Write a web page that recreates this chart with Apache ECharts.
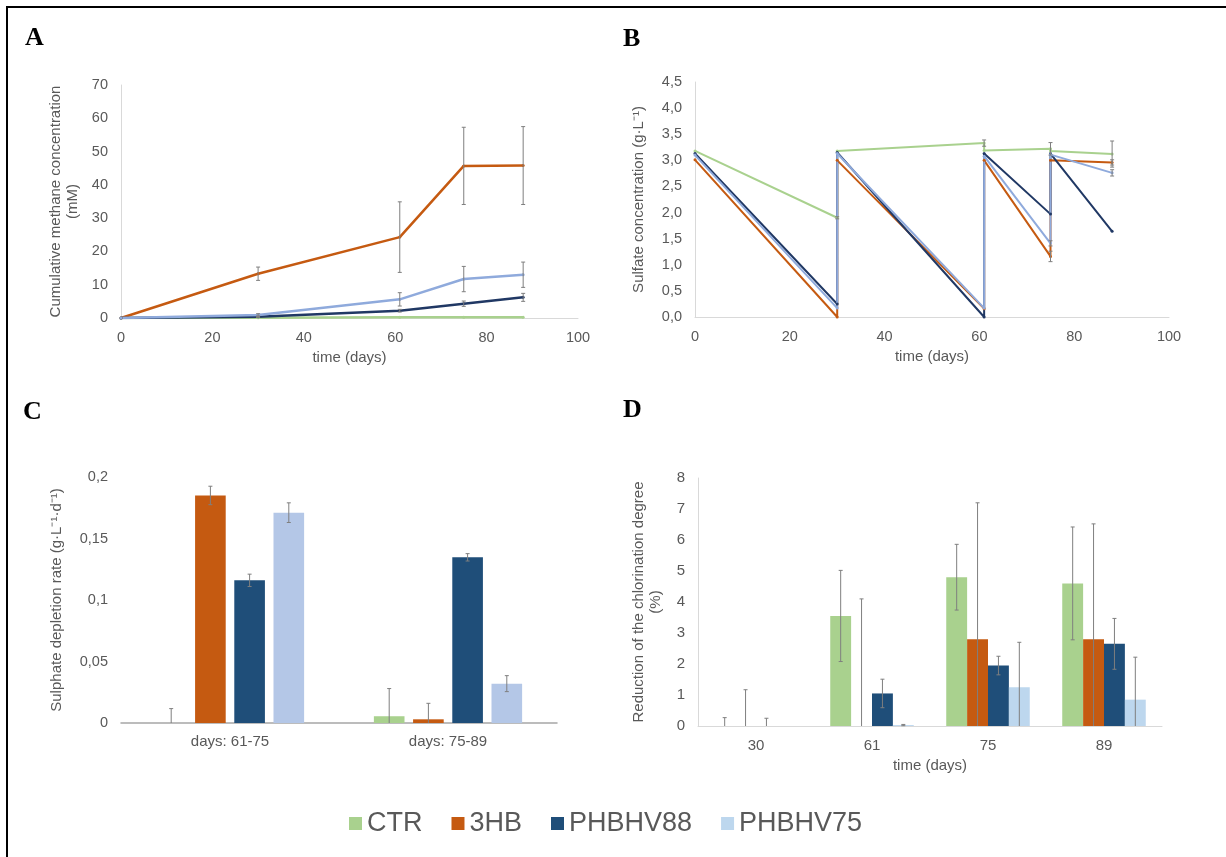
<!DOCTYPE html>
<html>
<head>
<meta charset="utf-8">
<title>Figure A-D</title>
<script src="https://cdn.jsdelivr.net/npm/echarts@6/dist/echarts.min.js"></script>
<style>
  html, body { margin: 0; padding: 0; background: #fff; }
  #chart { width: 1226px; height: 857px; }
</style>
</head>
<body>
<div id="chart"></div>
<script>
// series names (shared by all four panels)
const names = ['CTR', '3HB', 'PHBHV88', 'PHBHV75'];

// A: cumulative methane (mM)
const days = [0, 30, 61, 75, 88];
const methaneCTR = [0, 0.1, 0.2, 0.2, 0.2];
const methane3HB = [0, 13.3, 24.3, 45.7, 45.8];
const methane88 = [0, 0.4, 2.2, 4.3, 6.2];
const methane75 = [0, 0.9, 5.6, 11.7, 13.0];
const methaneErrCTR = [0, 0, 0, 0, 0];
const methaneErr3HB = [0, 2.0, 10.6, 11.6, 11.7];
const methaneErr88 = [0, 0.2, 0.4, 0.8, 1.2];
const methaneErr75 = [0, 0.4, 2.0, 3.8, 3.8];

// B: sulfate concentration (g/L), repeated days = re-spiking
const sulfateDays = [0, 30, 30, 61, 61, 75, 75, 88];
const sulfateCTR = [3.18, 1.9, 3.18, 3.33, 3.19, 3.22, 3.18, 3.12];
const sulfate3HB = [3.01, 0.0, 3.0, 0.16, 3.0, 1.16, 3.0, 2.96];
const sulfate88 = [3.13, 0.25, 3.15, 0.0, 3.13, 1.97, 3.13, 1.64];
const sulfate75 = [3.1, 0.17, 3.13, 0.17, 3.08, 1.41, 3.11, 2.76];
const sulfateErrCTR = [0, 0.02, 0, 0.06, 0, 0.12, 0, 0.25];
const sulfateErr3HB = [0, 0, 0, 0, 0, 0.1, 0, 0.05];
const sulfateErr88 = [0, 0, 0, 0, 0, 0, 0, 0];
const sulfateErr75 = [0, 0, 0, 0, 0, 0.05, 0, 0.06];

// C: sulphate depletion rate
const rateGroups = ['days: 61-75', 'days: 75-89'];
const rateCTR = [0, 0.0055];
const rate3HB = [0.185, 0.003];
const rate88 = [0.116, 0.1347];
const rate75 = [0.171, 0.032];
const rateErrCTR = [0.0117, 0.0225];
const rateErr3HB = [0.0075, 0.013];
const rateErr88 = [0.005, 0.003];
const rateErr75 = [0.008, 0.0065];

// D: reduction of chlorination degree (%)
const chlorDays = ['30', '61', '75', '89'];
const chlorCTR = [0, 3.55, 4.8, 4.6];
const chlor3HB = [0, 0, 2.8, 2.8];
const chlor88 = [0, 1.05, 1.95, 2.65];
const chlor75 = [0, 0.03, 1.25, 0.85];
const chlorErrCTR = [0.27, 1.47, 1.06, 1.82];
const chlorErr3HB = [1.17, 4.1, 4.4, 3.72];
const chlorErr88 = [0.25, 0.46, 0.3, 0.82];
const chlorErr75 = [0, 0.02, 1.45, 1.37];

const FONT = 'Liberation Sans';
const GRAY = '#595959';
const barColors = ['#A9D18E', '#C55A11', '#1F4E79', '#BDD7EE'];
const barColorsC = ['#A9D18E', '#C55A11', '#1F4E79', '#B4C7E7'];
const lineColors = ['#A9D18E', '#C55A11', '#203864', '#8FAADC'];
const ERR = '#7F7F7F';

// draws one error bar (vertical line + caps), bottom clipped at 0
function errShape(api, x0, val, err, dx) {
    if (!(err > 0)) return null;
    const top = api.coord([x0, val + err]);
    const lo = Math.max(0, val - err);
    const bot = api.coord([x0, lo]);
    const x = top[0] + dx;
    const st = { stroke: ERR, lineWidth: 1 };
    const kids = [
        { type: 'line', shape: { x1: x, y1: top[1], x2: x, y2: bot[1] }, style: st },
        { type: 'line', shape: { x1: x - 2, y1: top[1], x2: x + 2, y2: top[1] }, style: st }
    ];
    if (val - err > 0) {
        kids.push({ type: 'line', shape: { x1: x - 2, y1: bot[1], x2: x + 2, y2: bot[1] }, style: st });
    }
    return { type: 'group', children: kids };
}

// error bars on value x axis (panels A and B)
function xyErrors(axis, idx, xs, vals, errs) {
    return {
        type: 'custom', name: 'err' + axis + '_' + idx,
        xAxisIndex: axis, yAxisIndex: axis, z: 10, silent: true,
        data: xs.map((x, i) => [x, vals[i], errs[i]]),
        renderItem: (params, api) => errShape(api, api.value(0), api.value(1), api.value(2), 0)
    };
}

// error bars on grouped bars (panels C and D)
function barErrors(axis, idx, vals, errs, catGap, barGap) {
    return {
        type: 'custom', name: 'errbar' + axis + '_' + idx,
        xAxisIndex: axis, yAxisIndex: axis, z: 10, silent: true,
        data: vals.map((v, i) => [i, v, errs[i]]),
        renderItem: (params, api) => {
            const band = api.size([1, 0])[0];
            const n = names.length;
            const w = band * (1 - catGap) / (n + (n - 1) * barGap);
            const dx = (idx - (n - 1) / 2) * w * (1 + barGap);
            return errShape(api, api.value(0), api.value(1), api.value(2), dx);
        }
    };
}

const axisLabel = { color: GRAY, fontSize: 14.5, fontFamily: FONT, margin: 12 };
const nameStyle = { color: GRAY, fontSize: 15, fontFamily: FONT, lineHeight: 17 };
const lightLine = { show: true, lineStyle: { color: '#D9D9D9', width: 1 } };
const comma = d => v => v.toFixed(d).replace('.', ',');

const methane = [methaneCTR, methane3HB, methane88, methane75];
const methaneErr = [methaneErrCTR, methaneErr3HB, methaneErr88, methaneErr75];
const sulfate = [sulfateCTR, sulfate3HB, sulfate88, sulfate75];
const sulfateErr = [sulfateErrCTR, sulfateErr3HB, sulfateErr88, sulfateErr75];
const rate = [rateCTR, rate3HB, rate88, rate75];
const rateErr = [rateErrCTR, rateErr3HB, rateErr88, rateErr75];
const chlor = [chlorCTR, chlor3HB, chlor88, chlor75];
const chlorErr = [chlorErrCTR, chlorErr3HB, chlorErr88, chlorErr75];

const series = [];
names.forEach((nm, i) => {
    series.push({
        type: 'line', name: nm, xAxisIndex: 0, yAxisIndex: 0,
        data: days.map((d, k) => [d, methane[i][k]]),
        symbol: 'circle', symbolSize: 3,
        lineStyle: { color: lineColors[i], width: 2.5 },
        itemStyle: { color: lineColors[i] }
    });
    series.push(xyErrors(0, i, days, methane[i], methaneErr[i]));
});
names.forEach((nm, i) => {
    series.push({
        type: 'line', name: nm, xAxisIndex: 1, yAxisIndex: 1,
        data: sulfateDays.map((d, k) => [d, sulfate[i][k]]),
        symbol: 'circle', symbolSize: 3,
        lineStyle: { color: lineColors[i], width: 2 },
        itemStyle: { color: lineColors[i] }
    });
    series.push(xyErrors(1, i, sulfateDays, sulfate[i], sulfateErr[i]));
});
names.forEach((nm, i) => {
    series.push({
        type: 'bar', name: nm, xAxisIndex: 2, yAxisIndex: 2,
        data: rate[i], barGap: '28%', barCategoryGap: '32%',
        itemStyle: { color: barColorsC[i] }
    });
    series.push(barErrors(2, i, rate[i], rateErr[i], 0.32, 0.28));
});
names.forEach((nm, i) => {
    series.push({
        type: 'bar', name: nm, xAxisIndex: 3, yAxisIndex: 3,
        data: chlor[i], barGap: '0%', barCategoryGap: '28%',
        itemStyle: { color: barColors[i] }
    });
    series.push(barErrors(3, i, chlor[i], chlorErr[i], 0.28, 0));
});

const letter = (t, x, y) => ({
    type: 'text', left: x, top: y,
    style: { text: t, font: 'bold 26px "Liberation Serif"', fill: '#000' }
});

const chart = echarts.init(document.getElementById('chart'));
chart.setOption({
    animation: false,
    backgroundColor: '#fff',
    textStyle: { fontFamily: FONT },
    graphic: [
        { type: 'rect', shape: { x: 6, y: 6, width: 1230, height: 2 }, style: { fill: '#000' } },
        { type: 'rect', shape: { x: 6, y: 6, width: 2, height: 860 }, style: { fill: '#000' } },
        letter('A', 25, 25),
        letter('B', 623, 26),
        letter('C', 23, 399),
        letter('D', 623, 397)
    ],
    legend: {
        left: 344, top: 805,
        icon: 'rect', itemWidth: 13, itemHeight: 13, itemGap: 29,
        textStyle: { color: GRAY, fontSize: 27, fontFamily: FONT },
        data: names.map((nm, i) => ({ name: nm, itemStyle: { color: barColors[i] } }))
    },
    grid: [
        { left: 121, top: 85, width: 457, height: 233 },
        { left: 695, top: 82, width: 474, height: 235 },
        { left: 121, top: 477, width: 436, height: 246 },
        { left: 698, top: 478, width: 464, height: 248 }
    ],
    xAxis: [
        { gridIndex: 0, type: 'value', min: 0, max: 100, interval: 20,
          name: 'time (days)', nameLocation: 'middle', nameGap: 31, nameTextStyle: nameStyle,
          axisLine: lightLine, axisTick: { show: false }, splitLine: { show: false }, axisLabel },
        { gridIndex: 1, type: 'value', min: 0, max: 100, interval: 20,
          name: 'time (days)', nameLocation: 'middle', nameGap: 31, nameTextStyle: nameStyle,
          axisLine: lightLine, axisTick: { show: false }, splitLine: { show: false }, axisLabel },
        { gridIndex: 2, type: 'category', data: rateGroups,
          axisLine: { show: true, lineStyle: { color: '#A6A6A6', width: 1.5 } },
          axisTick: { show: false }, axisLabel: { ...axisLabel, fontSize: 15, margin: 11 } },
        { gridIndex: 3, type: 'category', data: chlorDays,
          name: 'time (days)', nameLocation: 'middle', nameGap: 31, nameTextStyle: nameStyle,
          axisLine: lightLine, axisTick: { show: false }, axisLabel: { ...axisLabel, fontSize: 15 } }
    ],
    yAxis: [
        { gridIndex: 0, type: 'value', min: 0, max: 70, interval: 10,
          name: 'Cumulative methane concentration\n(mM)', nameLocation: 'middle', nameGap: 40,
          nameTextStyle: nameStyle, axisLine: lightLine, axisTick: { show: false },
          splitLine: { show: false }, axisLabel: { ...axisLabel, margin: 13 } },
        { gridIndex: 1, type: 'value', min: 0, max: 4.5, interval: 0.5,
          name: 'Sulfate concentration (g·L⁻¹)', nameLocation: 'middle', nameGap: 48,
          nameTextStyle: nameStyle, axisLine: lightLine, axisTick: { show: false },
          splitLine: { show: false }, axisLabel: { ...axisLabel, margin: 13, formatter: comma(1) } },
        { gridIndex: 2, type: 'value', min: 0, max: 0.2, interval: 0.05,
          name: 'Sulphate depletion rate (g·L⁻¹·d⁻¹)', nameLocation: 'middle', nameGap: 56,
          nameTextStyle: nameStyle, axisLine: { show: false }, axisTick: { show: false },
          splitLine: { show: false },
          axisLabel: { ...axisLabel, margin: 13, formatter: v => String(+v.toFixed(2)).replace('.', ',') } },
        { gridIndex: 3, type: 'value', min: 0, max: 8, interval: 1,
          name: 'Reduction of the chlorination degree\n(%)', nameLocation: 'middle', nameGap: 34,
          nameTextStyle: nameStyle, axisLine: lightLine, axisTick: { show: false },
          splitLine: { show: false }, axisLabel: { ...axisLabel, fontSize: 15, margin: 13 } }
    ],
    series: series
});
</script>
</body>
</html>
